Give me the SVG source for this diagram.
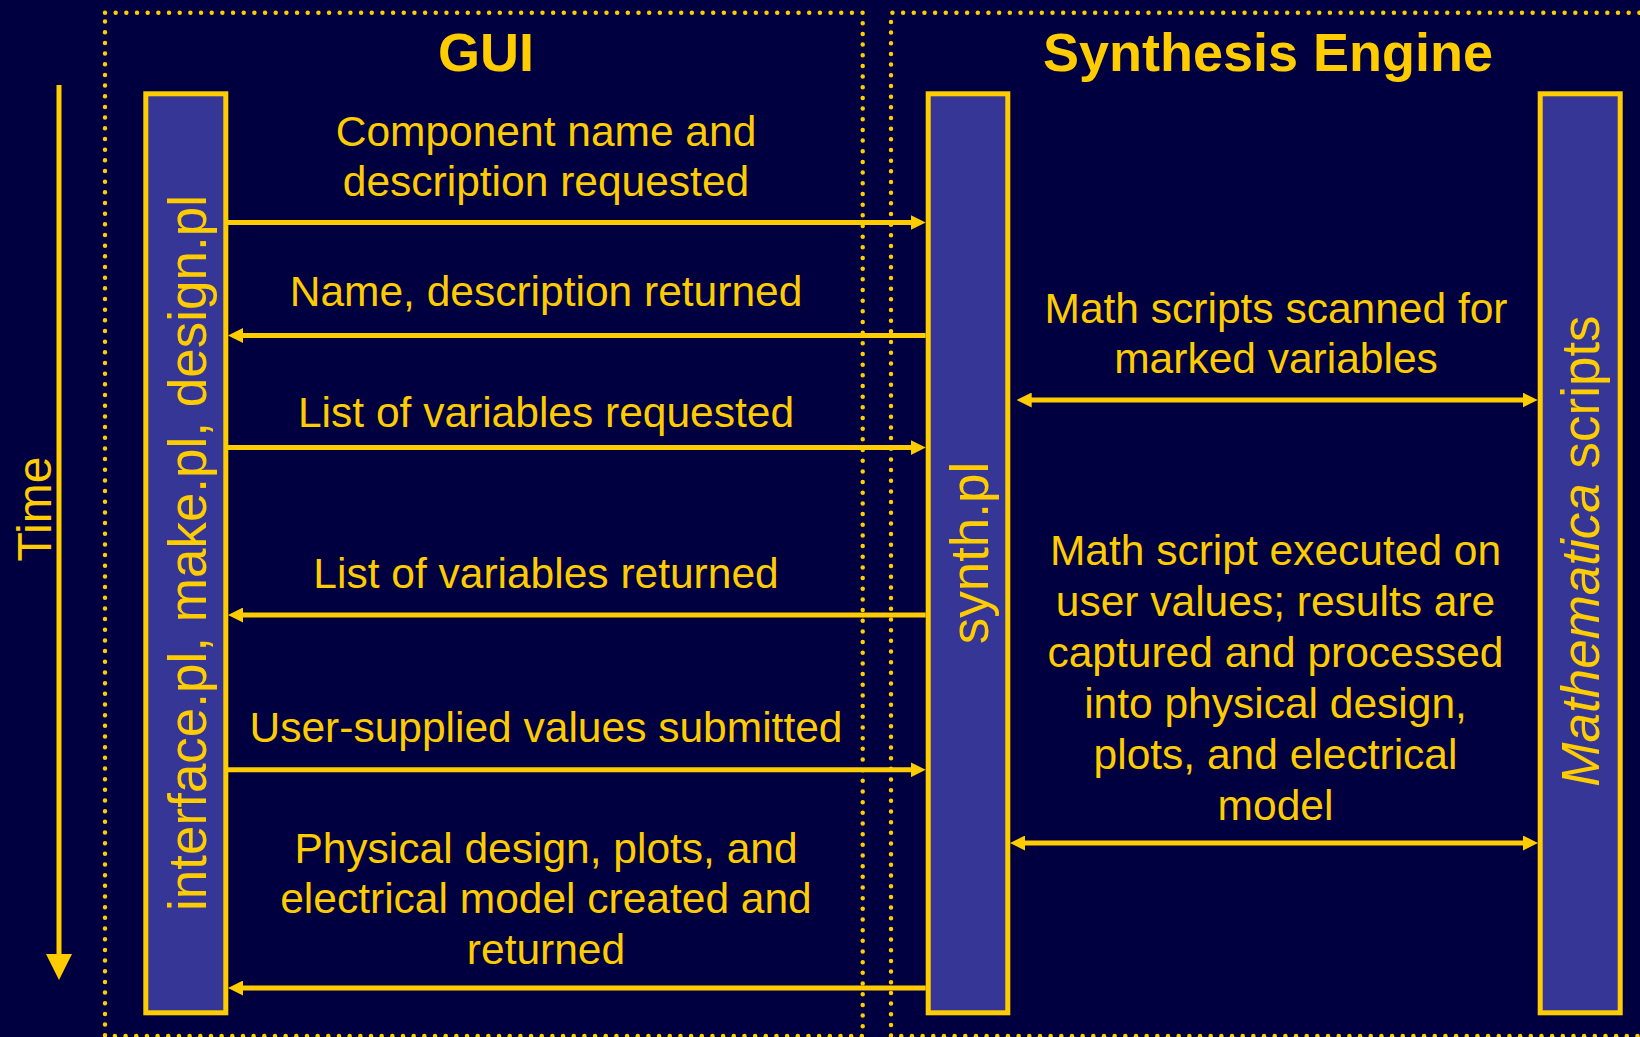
<svg xmlns="http://www.w3.org/2000/svg" width="1640" height="1037" viewBox="0 0 1640 1037">
  <defs>
    <style>
      .bg { fill: #000040; }
      .frame { fill: none; stroke: #FFCC00; stroke-width: 4.5; stroke-dasharray: 0 10.67; stroke-linecap: round; }
      .bar { fill: #363696; stroke: #FFCC00; stroke-width: 5; }
      .msg { fill: none; stroke: #FFCC00; stroke-width: 5; }
      .title { font-family: "Liberation Sans", Arial, sans-serif; font-weight: bold; font-size: 54px; fill: #FFCC00; text-anchor: middle; }
      .label { font-family: "Liberation Sans", Arial, sans-serif; font-size: 42.5px; fill: #FFCC00; text-anchor: middle; }
      .vlabel { font-family: "Liberation Sans", Arial, sans-serif; font-size: 53px; fill: #FFCC00; text-anchor: middle; }
    </style>
    <marker id="head" markerUnits="userSpaceOnUse" markerWidth="15" markerHeight="15" viewBox="0 0 15 15" refX="3" refY="7.5" orient="auto-start-reverse">
      <path d="M0,0 L15,7.5 L0,15 z" fill="#FFCC00"/>
    </marker>
    <marker id="timehead" markerUnits="userSpaceOnUse" markerWidth="26" markerHeight="26" viewBox="0 0 26 26" refX="4" refY="13" orient="auto">
      <path d="M0,0 L26,13 L0,26 z" fill="#FFCC00"/>
    </marker>
  </defs>

  <rect class="bg" x="0" y="0" width="1640" height="1037"/>

  <!-- dotted subsystem frames -->
  <g id="frames">
    <rect class="frame" x="105" y="12.7" width="757.7" height="1023.3"/>
    <path class="frame" d="M1650,12.7 H891 V1036 H1650"/>
  </g>

  <!-- titles -->
  <text class="title" x="486" y="71">GUI</text>
  <text class="title" x="1268" y="71">Synthesis Engine</text>

  <!-- time axis -->
  <g id="time">
    <line x1="59" y1="85" x2="59" y2="958" stroke="#FFCC00" stroke-width="5" marker-end="url(#timehead)"/>
    <text class="vlabel" font-size="48" style="font-size:48px" transform="translate(51,509) rotate(-90)">Time</text>
  </g>

  <!-- lifelines -->
  <g id="gui-scripts">
    <rect class="bar" x="145.8" y="93.8" width="80" height="919"/>
    <text class="vlabel" transform="translate(206,553) rotate(-90)">interface.pl, make.pl, design.pl</text>
  </g>
  <g id="synth">
    <rect class="bar" x="928.2" y="93.8" width="79.6" height="919"/>
    <text class="vlabel" transform="translate(988,553) rotate(-90)">synth.pl</text>
  </g>
  <g id="mathematica">
    <rect class="bar" x="1540.2" y="93.8" width="80" height="919"/>
    <text class="vlabel" transform="translate(1599,551) rotate(-90)"><tspan font-style="italic">Mathematica</tspan> scripts</text>
  </g>

  <!-- messages -->
  <g id="connectors">
    <path class="msg" d="M228,222.5 H913.7" marker-end="url(#head)"/>
    <path class="msg" d="M925.7,335.5 H240" marker-end="url(#head)"/>
    <path class="msg" d="M228,447.6 H913.7" marker-end="url(#head)"/>
    <path class="msg" d="M925.7,615 H240" marker-end="url(#head)"/>
    <path class="msg" d="M228,769.8 H913.7" marker-end="url(#head)"/>
    <path class="msg" d="M925.7,988 H240" marker-end="url(#head)"/>
    <path class="msg" d="M1028.7,400 H1525.7" marker-start="url(#head)" marker-end="url(#head)"/>
    <path class="msg" d="M1022,843 H1526" marker-start="url(#head)" marker-end="url(#head)"/>
  </g>

  <!-- message labels -->
  <g id="labels">
    <text class="label" x="546" y="146">Component name and</text>
    <text class="label" x="546" y="196">description requested</text>
    <text class="label" x="546" y="305.7">Name, description returned</text>
    <text class="label" x="546" y="426.7">List of variables requested</text>
    <text class="label" x="546" y="587.8">List of variables returned</text>
    <text class="label" x="546" y="741.5">User-supplied values submitted</text>
    <text class="label" x="546" y="862.7">Physical design, plots, and</text>
    <text class="label" x="546" y="913.3">electrical model created and</text>
    <text class="label" x="546" y="964.3">returned</text>

    <text class="label" x="1276" y="323">Math scripts scanned for</text>
    <text class="label" x="1276" y="373.4">marked variables</text>

    <text class="label" x="1275.5" y="565">Math script executed on</text>
    <text class="label" x="1275.5" y="616">user values; results are</text>
    <text class="label" x="1275.5" y="666.7">captured and processed</text>
    <text class="label" x="1275.5" y="718">into physical design,</text>
    <text class="label" x="1275.5" y="769">plots, and electrical</text>
    <text class="label" x="1275.5" y="820">model</text>
  </g>
</svg>
